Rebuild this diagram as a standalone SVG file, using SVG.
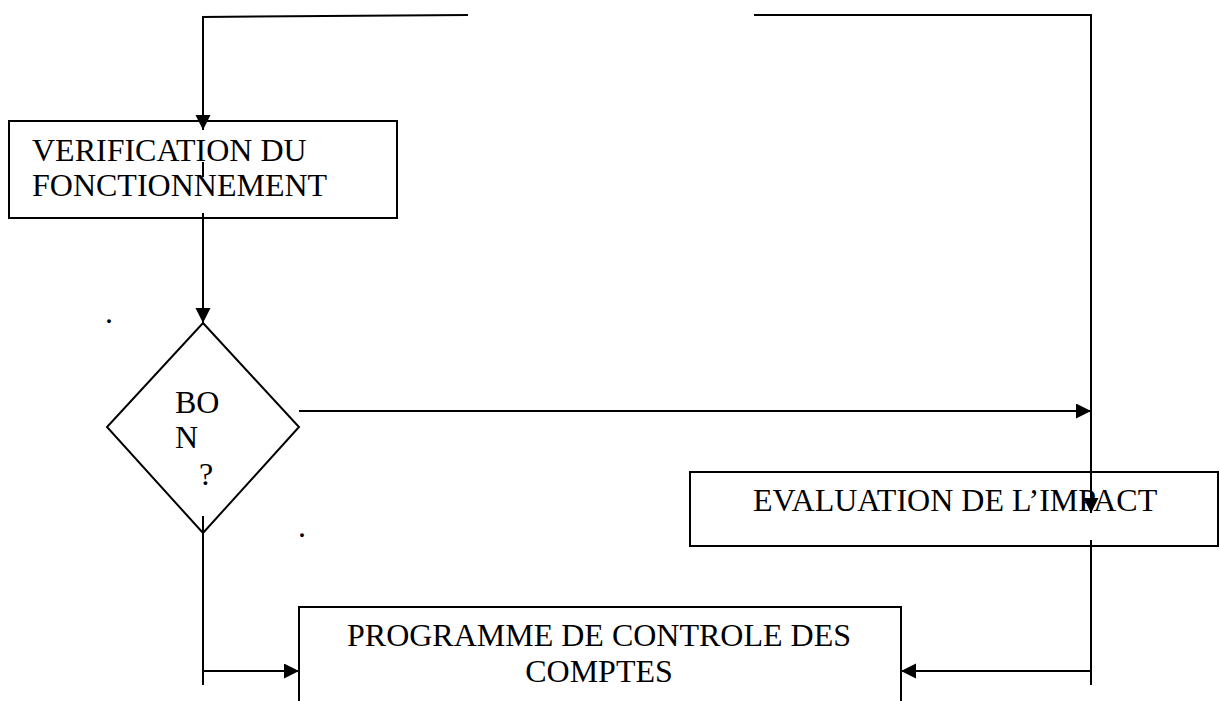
<svg xmlns="http://www.w3.org/2000/svg" width="1220" height="701" viewBox="0 0 1220 701">
<style>
.box{fill:#fff;stroke:#000;stroke-width:2}
.ln{fill:none;stroke:#000;stroke-width:2}
.t{font-family:"Liberation Serif","Times New Roman",serif;font-size:32px;fill:#000}
</style>
<defs>
<marker id="ah" markerUnits="userSpaceOnUse" markerWidth="16" markerHeight="16" refX="15" refY="7.5" orient="auto">
<path d="M0,0 L15,7.5 L0,15 Z" fill="#000"/>
</marker>
</defs>
<rect width="1220" height="701" fill="#fff"/>
<g id="verification">
<rect class="box" x="9" y="121" width="388" height="97"/>
<text class="t" x="32" y="161">VERIFICATION DU</text>
<text class="t" x="32" y="196">FONCTIONNEMENT</text>
</g>
<g id="bon">
<polygon class="box" points="203,323 299,427 203,533 107,427"/>
<text class="t" x="175" y="413" font-size="31">BO</text>
<text class="t" x="175" y="448" font-size="31">N</text>
<text class="t" x="199" y="485" font-size="31">?</text>
</g>
<g id="evaluation">
<rect class="box" x="690" y="472" width="528" height="74"/>
<text class="t" x="753" y="511">EVALUATION DE L’IMPACT</text>
</g>
<g id="programme">
<rect class="box" x="299" y="607" width="602" height="120"/>
<text class="t" x="599" y="646" text-anchor="middle">PROGRAMME DE CONTROLE DES</text>
<text class="t" x="599" y="682" text-anchor="middle">COMPTES</text>
</g>
<g id="connectors">
<polyline class="ln" points="468,15 203,17 203,130" marker-end="url(#ah)"/>
<line class="ln" x1="203" y1="162" x2="203" y2="177"/>
<line class="ln" x1="203" y1="213" x2="203" y2="323" marker-end="url(#ah)"/>
<polyline class="ln" points="754,15 1091,15 1091,513" marker-end="url(#ah)"/>
<line class="ln" x1="1091" y1="540" x2="1091" y2="685"/>
<line class="ln" x1="299" y1="411" x2="1091" y2="411" marker-end="url(#ah)"/>
<line class="ln" x1="203" y1="516" x2="203" y2="685"/>
<line class="ln" x1="203" y1="671" x2="299" y2="671" marker-end="url(#ah)"/>
<line class="ln" x1="1091" y1="671" x2="901" y2="671" marker-end="url(#ah)"/>
</g>
<text class="t" x="105" y="323" font-size="14">.</text>
<text class="t" x="298" y="537" font-size="14">.</text>
</svg>
